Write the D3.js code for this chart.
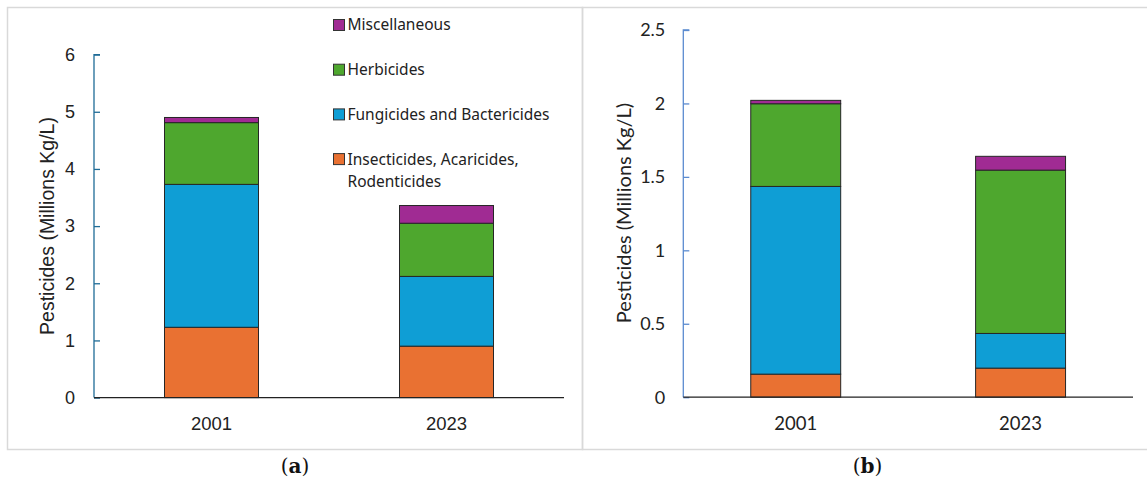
<!DOCTYPE html>
<html>
<head>
<meta charset="utf-8">
<script src="https://cdn.jsdelivr.net/npm/d3@7"></script>
<style>
  html, body { margin: 0; padding: 0; background: #fff; }
  svg { display: block; }
</style>
</head>
<body>
<svg id="chart" width="1147" height="483"></svg>
<script>
// Pesticide use by class, 2001 vs 2023 (millions kg/L)
const categories = ["2001", "2023"];
const seriesKeys = ["insecticides", "fungicides", "herbicides", "misc"];
const seriesLabels = ["Insecticides, Acaricides, Rodenticides", "Fungicides and Bactericides", "Herbicides", "Miscellaneous"];
const seriesColors = ["#E97132", "#0F9ED5", "#4EA72E", "#A02B93"];

// Panel (a)
const aInsecticides = [1.23, 0.90];
const aFungicides   = [2.50, 1.22];
const aHerbicides   = [1.08, 0.93];
const aMisc         = [0.09, 0.31];
const aTicks = [0, 1, 2, 3, 4, 5, 6];

// Panel (b)
const bInsecticides = [0.157, 0.198];
const bFungicides   = [1.278, 0.236];
const bHerbicides   = [0.563, 1.112];
const bMisc         = [0.023, 0.094];
const bTicks = [0, 0.5, 1, 1.5, 2, 2.5];

const yTitle = "Pesticides (Millions Kg/L)";

const svg = d3.select("#chart");

function rows(ins, fun, her, mis) {
  return categories.map((c, i) => ({
    category: c, insecticides: ins[i], fungicides: fun[i], herbicides: her[i], misc: mis[i]
  }));
}

const panels = [
  {
    caption: "a",
    box: { x: 7.5, y: 7.5, w: 575, h: 442 },
    plot: { x0: 94, x1: 564, y0: 397.6, y1: 54.6 },
    domainMax: 6, ticks: aTicks, fmt: d => d3.format("")(d),
    data: rows(aInsecticides, aFungicides, aHerbicides, aMisc),
    axisColor: "#1F6C97",
    font: "'Liberation Sans', Arial, sans-serif",
    tickSize: 18, catSize: 18.5, titleSize: 19.5,
    tickGap: 19, titleX: 47, titleY: 226,
    legend: true
  },
  {
    caption: "b",
    box: { x: 582.5, y: 7.5, w: 570, h: 442 },
    plot: { x0: 683.3, x1: 1133, y0: 397.2, y1: 30 },
    domainMax: 2.5, ticks: bTicks, fmt: d => d3.format("")(d),
    data: rows(bInsecticides, bFungicides, bHerbicides, bMisc),
    axisColor: "#5B8BD0",
    font: "Lato, 'Open Sans', sans-serif",
    tickSize: 18, catSize: 18.5, titleSize: 20,
    tickGap: 18, titleX: 624, titleY: 213,
    legend: false
  }
];

const stack = d3.stack().keys(seriesKeys);

panels.forEach(p => {
  const g = svg.append("g");

  // panel frame
  g.append("rect")
    .attr("x", p.box.x).attr("y", p.box.y)
    .attr("width", p.box.w).attr("height", p.box.h)
    .attr("fill", "none").attr("stroke", "#D9D9D9").attr("stroke-width", 1.5);

  const x = d3.scaleBand().domain(categories).range([p.plot.x0, p.plot.x1]).paddingInner(0.6).paddingOuter(0.3);
  const y = d3.scaleLinear().domain([0, p.domainMax]).range([p.plot.y0, p.plot.y1]);

  // stacked bars
  const layers = stack(p.data);
  layers.forEach((layer, li) => {
    g.append("g").selectAll("rect").data(layer).join("rect")
      .attr("x", d => x(d.data.category))
      .attr("width", x.bandwidth())
      .attr("y", d => y(d[1]))
      .attr("height", d => y(d[0]) - y(d[1]))
      .attr("fill", seriesColors[li])
      .attr("stroke", "#262626").attr("stroke-width", 1);
  });

  // value axis (ticks pointing into the plot)
  const yAxis = d3.axisRight(y).tickValues(p.ticks).tickSize(6).tickFormat("");
  const ya = g.append("g").attr("transform", `translate(${p.plot.x0},0)`).call(yAxis);
  ya.selectAll("path, line").attr("stroke", p.axisColor).attr("stroke-width", 1.3);
  ya.select(".domain").attr("d", `M6,${p.plot.y1}H0V${p.plot.y0}`);

  g.append("g").selectAll("text").data(p.ticks).join("text")
    .attr("x", p.plot.x0 - p.tickGap)
    .attr("y", d => y(d))
    .attr("dy", "0.35em")
    .attr("text-anchor", "end")
    .attr("font-family", p.font).attr("font-size", p.tickSize).attr("fill", "#222")
    .text(p.fmt);

  // category axis
  g.append("line")
    .attr("x1", p.plot.x0).attr("x2", p.plot.x1)
    .attr("y1", y(0)).attr("y2", y(0))
    .attr("stroke", "#222").attr("stroke-width", 1.3);

  g.append("g").selectAll("text").data(categories).join("text")
    .attr("x", d => x(d) + x.bandwidth() / 2)
    .attr("y", 424)
    .attr("dy", "0.35em")
    .attr("text-anchor", "middle")
    .attr("font-family", p.font).attr("font-size", p.catSize).attr("fill", "#222")
    .text(d => d);

  // value axis title
  g.append("text")
    .attr("transform", `translate(${p.titleX},${p.titleY}) rotate(-90)`)
    .attr("dy", "0.35em")
    .attr("text-anchor", "middle")
    .attr("font-family", p.font).attr("font-size", p.titleSize).attr("fill", "#222")
    .text(yTitle);

  // caption under the panel
  const cap = g.append("text")
    .attr("x", p.box.x + p.box.w / 2).attr("y", 473)
    .attr("text-anchor", "middle")
    .attr("font-family", "'DejaVu Serif', 'Liberation Serif', serif")
    .attr("font-size", 20).attr("fill", "#111");
  cap.append("tspan").text("(");
  cap.append("tspan").attr("font-weight", "bold").text(p.caption);
  cap.append("tspan").text(")");

  // legend, listed top to bottom in reverse stacking order
  if (p.legend) {
    const legendItems = seriesKeys.map((k, i) => ({ label: seriesLabels[i], color: seriesColors[i] })).reverse();
    const lg = g.append("g").attr("font-family", "'Noto Sans', sans-serif").attr("font-size", 15.5).attr("fill", "#222");
    legendItems.forEach((item, i) => {
      const cyItem = 25 + i * 44.7;
      lg.append("rect")
        .attr("x", 333.5).attr("y", cyItem - 5.5)
        .attr("width", 11).attr("height", 11)
        .attr("fill", item.color).attr("stroke", "#333").attr("stroke-width", 1);
      const t = lg.append("text").attr("x", 347.5).attr("y", cyItem).attr("dy", "0.35em");
      if (item.label.startsWith("Insecticides")) {
        t.append("tspan").text("Insecticides, Acaricides,");
        t.append("tspan").attr("x", 347.5).attr("dy", 22.5).text("Rodenticides");
      } else {
        t.text(item.label);
      }
    });
  }
});
</script>
</body>
</html>
